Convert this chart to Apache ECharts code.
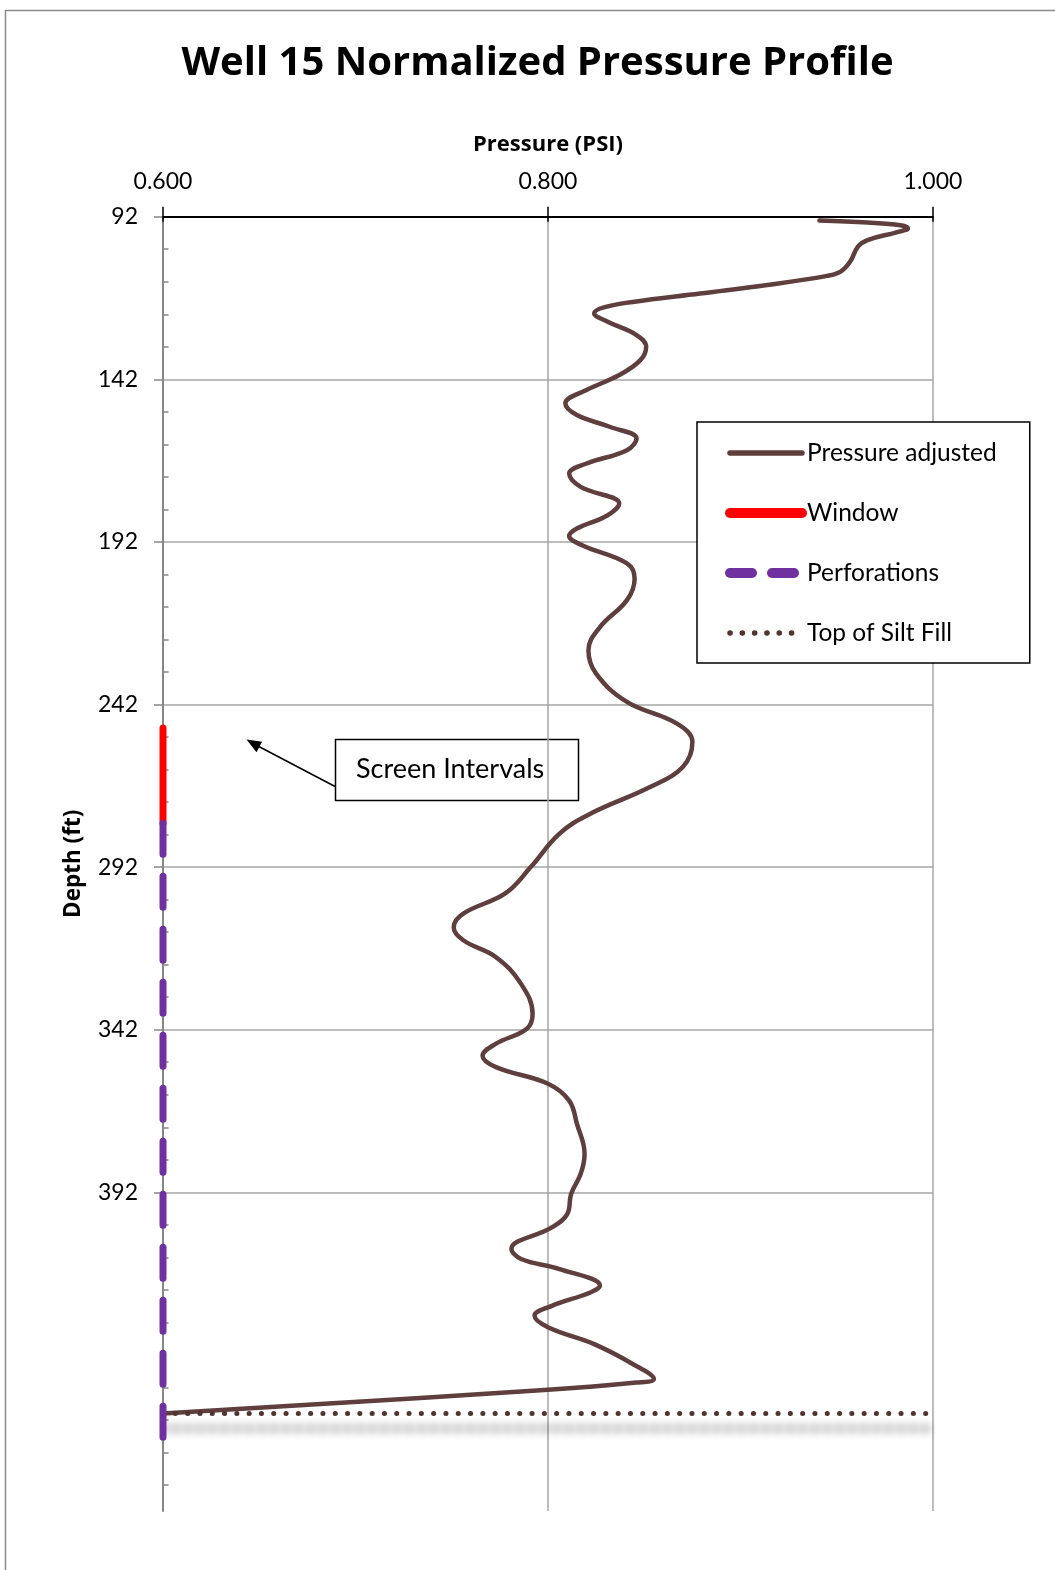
<!DOCTYPE html>
<html>
<head>
<meta charset="utf-8">
<title>Well 15 Normalized Pressure Profile</title>
<script src="https://cdn.jsdelivr.net/npm/echarts@6/dist/echarts.min.js"></script>
<style>
  html, body { margin: 0; padding: 0; background: #ffffff; }
  #chart { width: 1055px; height: 1570px; }
</style>
</head>
<body>
<div id="chart"></div>
<script>
// Axis ranges and tick labels
const pressureMin = 0.6;
const pressureMax = 1.0;
const pressureStep = 0.2;
const depthMin = 92;
const depthMax = 490;
const depthTicks = [92, 142, 192, 242, 292, 342, 392, 442];

// Normalized pressure log: [pressure (PSI), depth (ft)]
const pressureAdjusted = [
  [0.941, 93.2], [0.966, 93.8], [0.983, 94.6], [0.987, 95.6], [0.981, 96.8],
  [0.966, 99.2], [0.961, 101.2], [0.957, 105.8], [0.952, 108.9], [0.945, 110.2],
  [0.914, 113.0], [0.879, 115.6], [0.844, 118.2], [0.829, 119.9], [0.824, 121.7],
  [0.831, 124.3], [0.846, 128.4], [0.851, 132.0], [0.848, 136.1], [0.837, 140.7],
  [0.820, 145.3], [0.809, 149.4], [0.815, 153.0], [0.832, 156.6], [0.846, 160.2],
  [0.841, 163.8], [0.820, 167.9], [0.811, 171.0], [0.817, 175.1], [0.837, 180.2],
  [0.831, 183.8], [0.815, 187.9], [0.811, 190.2], [0.818, 193.1], [0.841, 198.6],
  [0.845, 203.3], [0.841, 209.9], [0.827, 218.2], [0.821, 225.3], [0.825, 232.5],
  [0.841, 241.2], [0.867, 247.9], [0.875, 253.5], [0.870, 261.2], [0.853, 267.4],
  [0.822, 275.6], [0.806, 281.7], [0.791, 292.0], [0.778, 300.0], [0.756, 306.3],
  [0.751, 310.5], [0.756, 314.5], [0.773, 319.7], [0.786, 327.9], [0.792, 337.1],
  [0.789, 341.7], [0.773, 346.3], [0.766, 350.0], [0.773, 353.5], [0.800, 358.6],
  [0.811, 363.8], [0.815, 370.9], [0.819, 380.2], [0.817, 386.3], [0.812, 392.5],
  [0.810, 398.7], [0.802, 402.8], [0.781, 409.4], [0.786, 412.5], [0.806, 415.6],
  [0.827, 420.7], [0.822, 422.8], [0.802, 426.9], [0.793, 429.9], [0.800, 433.5],
  [0.824, 438.7], [0.844, 444.8], [0.855, 449.4], [0.846, 450.5], [0.798, 452.8],
  [0.600, 460.0]
];

// Screen intervals drawn along the depth axis
const windowInterval = [[0.6, 249.2], [0.6, 278.5]];
const perforations = [[0.6, 278.5], [0.6, 467.5]];

// Top of silt fill across the full pressure range
const siltFill = [[0.6, 460], [1.0, 460]];

// Minor depth ticks every 10 ft between the labelled ones
const minorDepthTicks = [];
for (let d = depthMin + 10; d < depthMax; d += 10) {
  if (depthTicks.indexOf(d) < 0) minorDepthTicks.push(d);
}

const FONT = 'Lato, "Open Sans", sans-serif';
const BOLD_FONT = '"Open Sans", Lato, sans-serif';
const gridColor = '#a6a6a6';
const axisGray = '#868686';

const chart = echarts.init(document.getElementById('chart'), null, { renderer: 'canvas' });

const option = {
  backgroundColor: '#ffffff',
  animation: false,
  title: {
    text: 'Well 15 Normalized Pressure Profile',
    left: 532.5,
    top: 39,
    textAlign: 'center',
    textStyle: { fontFamily: BOLD_FONT, fontWeight: 'bold', fontSize: 40, color: '#000' }
  },
  grid: {
    left: 163,
    right: 122,
    top: 216.7,
    bottom: 59,
    outerBoundsMode: 'none'
  },
  legend: {
    orient: 'vertical',
    left: 697,
    top: 422,
    padding: [18, 33, 17, 28],
    itemWidth: 72,
    itemHeight: 26,
    itemGap: 34,
    backgroundColor: '#ffffff',
    borderColor: '#000000',
    borderWidth: 1.5,
    itemStyle: { color: 'rgba(0,0,0,0)', borderWidth: 0, opacity: 0 },
    textStyle: { fontFamily: FONT, fontSize: 24.5, color: '#000', lineHeight: 26 },
    data: [
      { name: 'Pressure adjusted', lineStyle: { width: 5.5 } },
      { name: 'Window', lineStyle: { width: 10 } },
      { name: 'Perforations', lineStyle: { width: 10, type: [22, 20] } },
      { name: 'Top of Silt Fill', lineStyle: { width: 5.5, type: [0.1, 12.2] } }
    ]
  },
  xAxis: [
    {
      type: 'value',
      position: 'top',
      min: pressureMin,
      max: pressureMax,
      interval: pressureStep,
      name: 'Pressure (PSI)',
      nameLocation: 'middle',
      nameGap: 61,
      nameTextStyle: { fontFamily: BOLD_FONT, fontWeight: 'bold', fontSize: 22, color: '#000' },
      axisLine: { show: true, lineStyle: { color: '#000', width: 2 } },
      axisTick: { show: true, length: 10, lineStyle: { color: '#000', width: 1.5 } },
      axisLabel: {
        margin: 24,
        fontFamily: FONT,
        fontSize: 23,
        color: '#000',
        formatter: v => v.toFixed(3)
      },
      splitLine: { show: true, showMinLine: false, lineStyle: { color: gridColor, width: 1.5 } }
    },
    {
      type: 'value',
      position: 'top',
      min: pressureMin,
      max: pressureMax,
      interval: pressureStep,
      axisLine: { show: false },
      axisTick: { show: true, inside: true, length: 5, lineStyle: { color: '#000', width: 1.5 } },
      axisLabel: { show: false },
      splitLine: { show: false }
    }
  ],
  yAxis: [
    {
      type: 'value',
      inverse: true,
      min: depthMin,
      max: depthMax,
      interval: 50,
      name: 'Depth (ft)',
      nameLocation: 'middle',
      nameGap: 78,
      nameRotate: 90,
      nameTextStyle: { fontFamily: BOLD_FONT, fontWeight: 'bold', fontSize: 22.5, color: '#000' },
      axisLine: { show: true, lineStyle: { color: axisGray, width: 2 } },
      axisTick: { show: true, length: 9, customValues: depthTicks, lineStyle: { color: axisGray, width: 1.5 } },
      axisLabel: {
        margin: 25,
        fontFamily: FONT,
        fontSize: 23,
        color: '#000',
        customValues: depthTicks,
        showMaxLabel: false
      },
      splitLine: { show: true, showMinLine: false, showMaxLine: false, lineStyle: { color: gridColor, width: 1.5 } }
    },
    {
      type: 'value',
      inverse: true,
      position: 'left',
      min: depthMin,
      max: depthMax,
      interval: 10,
      axisLine: { show: false },
      axisTick: { show: true, inside: true, length: 5.5, customValues: minorDepthTicks, lineStyle: { color: axisGray, width: 1.5 } },
      axisLabel: { show: false },
      splitLine: { show: false }
    }
  ],
  series: [
    {
      name: 'Pressure adjusted',
      type: 'line',
      xAxisIndex: 0,
      yAxisIndex: 0,
      data: pressureAdjusted,
      smooth: 0.4,
      symbol: 'none',
      z: 3,
      itemStyle: { color: '#5e3f3d' },
      lineStyle: { color: '#5e3f3d', width: 4.5, cap: 'round', join: 'round' }
    },
    {
      name: 'Window',
      type: 'line',
      xAxisIndex: 0,
      yAxisIndex: 0,
      data: windowInterval,
      symbol: 'none',
      z: 5,
      itemStyle: { color: '#ff0000' },
      lineStyle: { color: '#ff0000', width: 7, cap: 'round' }
    },
    {
      name: 'Perforations',
      type: 'line',
      xAxisIndex: 0,
      yAxisIndex: 0,
      data: perforations,
      symbol: 'none',
      z: 5,
      itemStyle: { color: '#7030a0' },
      lineStyle: { color: '#7030a0', width: 7, type: [31, 22], cap: 'round' }
    },
    {
      name: 'Top of Silt Fill',
      type: 'line',
      xAxisIndex: 0,
      yAxisIndex: 0,
      data: siltFill,
      symbol: 'none',
      z: 4,
      itemStyle: { color: '#4f3430' },
      lineStyle: {
        color: '#4f3430',
        width: 5,
        type: [0.1, 12.2],
        cap: 'round',
        shadowColor: 'rgba(0,0,0,1)',
        shadowBlur: 10,
        shadowOffsetY: 15
      }
    }
  ],
  graphic: [
    {
      type: 'rect',
      z: -10,
      silent: true,
      shape: { x: 5.5, y: 10.5, width: 1200, height: 1700 },
      style: { fill: 'none', stroke: '#898989', lineWidth: 1.5 }
    },
    {
      type: 'group',
      z: 50,
      children: [
        {
          type: 'line',
          shape: { x1: 336, y1: 787, x2: 256, y2: 745 },
          style: { stroke: '#000', lineWidth: 1.5 }
        },
        {
          type: 'polygon',
          shape: { points: [[246.5, 739.5], [262.1, 741.7], [256.5, 752.3]] },
          style: { fill: '#000' }
        },
        {
          type: 'rect',
          shape: { x: 335.5, y: 739.5, width: 243, height: 61 },
          style: { fill: '#ffffff', stroke: '#000', lineWidth: 1.5 }
        },
        {
          type: 'text',
          x: 356,
          y: 769,
          style: {
            text: 'Screen Intervals',
            font: '27px ' + FONT,
            fill: '#000',
            verticalAlign: 'middle',
            align: 'left'
          }
        }
      ]
    }
  ]
};

chart.setOption(option);
</script>
</body>
</html>
